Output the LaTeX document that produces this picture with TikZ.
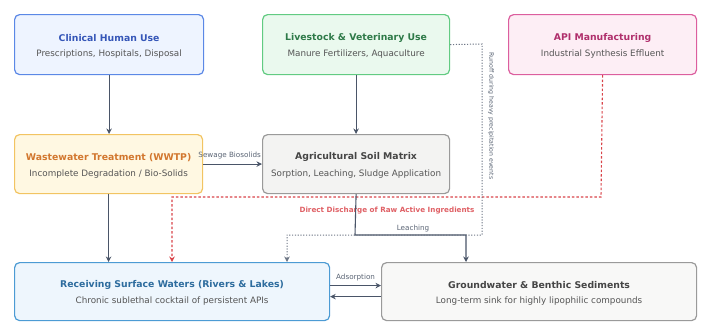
\documentclass[tikz,border=0pt]{standalone}
\usepackage{fontspec}
\setmainfont{DejaVu Sans}
\usetikzlibrary{arrows.meta,positioning}
\definecolor{bluefill}{HTML}{EEF4FF}
\definecolor{blueline}{HTML}{5B88E6}
\definecolor{bluetext}{HTML}{3556B8}
\definecolor{greenfill}{HTML}{EAF9EE}
\definecolor{greenline}{HTML}{62CB82}
\definecolor{greentext}{HTML}{2E7A48}
\definecolor{pinkfill}{HTML}{FDEEF5}
\definecolor{pinkline}{HTML}{DC5E9E}
\definecolor{pinktext}{HTML}{B02F6C}
\definecolor{yelfill}{HTML}{FFF8E2}
\definecolor{yelline}{HTML}{F2C462}
\definecolor{yeltext}{HTML}{D2772E}
\definecolor{greyfill}{HTML}{F3F3F2}
\definecolor{greyline}{HTML}{9A9A9A}
\definecolor{greytext}{HTML}{454545}
\definecolor{skyfill}{HTML}{EEF6FD}
\definecolor{skyline}{HTML}{4C9BD4}
\definecolor{skytext}{HTML}{2D6C9E}
\definecolor{subtext}{HTML}{555555}
\definecolor{arrowc}{HTML}{4A5568}
\definecolor{redc}{HTML}{D9444A}
\definecolor{labelc}{HTML}{5A6474}
\tikzset{
  box/.style={draw, rounded corners=5pt, line width=1.2pt, inner sep=0pt, anchor=north west},
  ttl/.style={font=\bfseries\fontsize{9.3}{10}\selectfont, anchor=center},
  sub/.style={font=\fontsize{8.8}{9}\selectfont, text=subtext, anchor=center},
  flow/.style={draw=arrowc, line width=1.1pt, -{Stealth[length=5.5pt,width=5.5pt]}},
  reddash/.style={draw=redc, line width=1.1pt, dash pattern=on 2.5pt off 2pt, -{Stealth[length=5.5pt,width=5.5pt]}},
  dotline/.style={draw=arrowc!80, line width=1pt, dash pattern=on 1.2pt off 1.6pt, -{Stealth[length=5.5pt,width=5.5pt]}},
  lbl/.style={font=\fontsize{7.2}{8}\selectfont, text=labelc}
}
\begin{document}
\begin{tikzpicture}[x=1pt,y=-1pt]
\useasboundingbox (0,0) rectangle (702,322);
% boxes
\node[box, fill=bluefill, draw=blueline, minimum width=189pt, minimum height=60pt] (clin) at (14,14) {};
\node[ttl, text=bluetext] at ([yshift=7pt]clin.center) {Clinical Human Use};
\node[sub] at ([yshift=-9.5pt]clin.center) {Prescriptions, Hospitals, Disposal};

\node[box, fill=greenfill, draw=greenline, minimum width=187pt, minimum height=60pt] (live) at (262,14) {};
\node[ttl, text=greentext] at ([yshift=7pt]live.center) {Livestock \& Veterinary Use};
\node[sub] at ([yshift=-9.5pt]live.center) {Manure Fertilizers, Aquaculture};

\node[box, fill=pinkfill, draw=pinkline, minimum width=188pt, minimum height=60pt] (api) at (508,14) {};
\node[ttl, text=pinktext] at ([yshift=7pt]api.center) {API Manufacturing};
\node[sub] at ([yshift=-9.5pt]api.center) {Industrial Synthesis Effluent};

\node[box, fill=yelfill, draw=yelline, minimum width=188pt, minimum height=59pt] (wwtp) at (14,134) {};
\node[ttl, text=yeltext] at ([yshift=7pt]wwtp.center) {Wastewater Treatment (WWTP)};
\node[sub] at ([yshift=-9.5pt]wwtp.center) {Incomplete Degradation / Bio-Solids};

\node[box, fill=greyfill, draw=greyline, minimum width=187pt, minimum height=59pt] (soil) at (262,134) {};
\node[ttl, text=greytext] at ([yshift=7pt]soil.center) {Agricultural Soil Matrix};
\node[sub] at ([yshift=-9.5pt]soil.center) {Sorption, Leaching, Sludge Application};

\node[box, fill=skyfill, draw=skyline, minimum width=315pt, minimum height=58pt] (recv) at (14,262) {};
\node[ttl, text=skytext] at ([yshift=7pt]recv.center) {Receiving Surface Waters (Rivers \& Lakes)};
\node[sub] at ([yshift=-9.5pt]recv.center) {Chronic sublethal cocktail of persistent APIs};

\node[box, fill=greyfill!60, draw=greyline, minimum width=315pt, minimum height=58pt] (gw) at (381,262) {};
\node[ttl, text=greytext] at ([yshift=7pt]gw.center) {Groundwater \& Benthic Sediments};
\node[sub] at ([yshift=-9.5pt]gw.center) {Long-term sink for highly lipophilic compounds};

% coordinates
\coordinate (redturn1) at (601,197);
\coordinate (redturn2) at (172,197);
\coordinate (leach1) at (355,235);
\coordinate (leach2) at (466,235);
\coordinate (run1) at (482,44);
\coordinate (run2) at (482,235);
\coordinate (run3) at (287,235);

% solid flows
\draw[flow] (clin.south) -- (clin.south |- wwtp.north);
\draw[flow] (live.south) -- (soil.north);
\draw[flow] (wwtp.east) -- node[lbl, above, pos=0.45, yshift=1pt] {Sewage Biosolids} (soil.west);
\draw[flow] (wwtp.south) -- (recv.north -| wwtp.south);

% red dashed
\draw[reddash] (api.south) -- (redturn1) -- (redturn2) -- (redturn2 |- recv.north);
\node[font=\bfseries\fontsize{7.2}{8}\selectfont, text=redc!85] (dlbl) at (387,211) {Direct Discharge of Raw Active Ingredients};

% leaching
\draw[flow] (soil.south) -- (leach1) -- (leach2) -- (leach2 |- gw.north);
\node[lbl] (llbl) at (413,228.5) {Leaching};

% runoff dotted
\draw[dotline] (live.east) -- (run1) -- (run2) -- (run3) -- (run3 |- recv.north);
\node[lbl, font=\fontsize{6.2}{7}\selectfont, rotate=-90, anchor=center] (rlbl) at (491,116) {Runoff during heavy precipitation events};

% adsorption
\draw[flow] ([yshift=6pt]recv.east) -- node[lbl, above, yshift=0.5pt] {Adsorption} ([yshift=6pt]gw.west);
\draw[flow] ([yshift=-5pt]gw.west) -- ([yshift=-5pt]recv.east);
\end{tikzpicture}
\end{document}
